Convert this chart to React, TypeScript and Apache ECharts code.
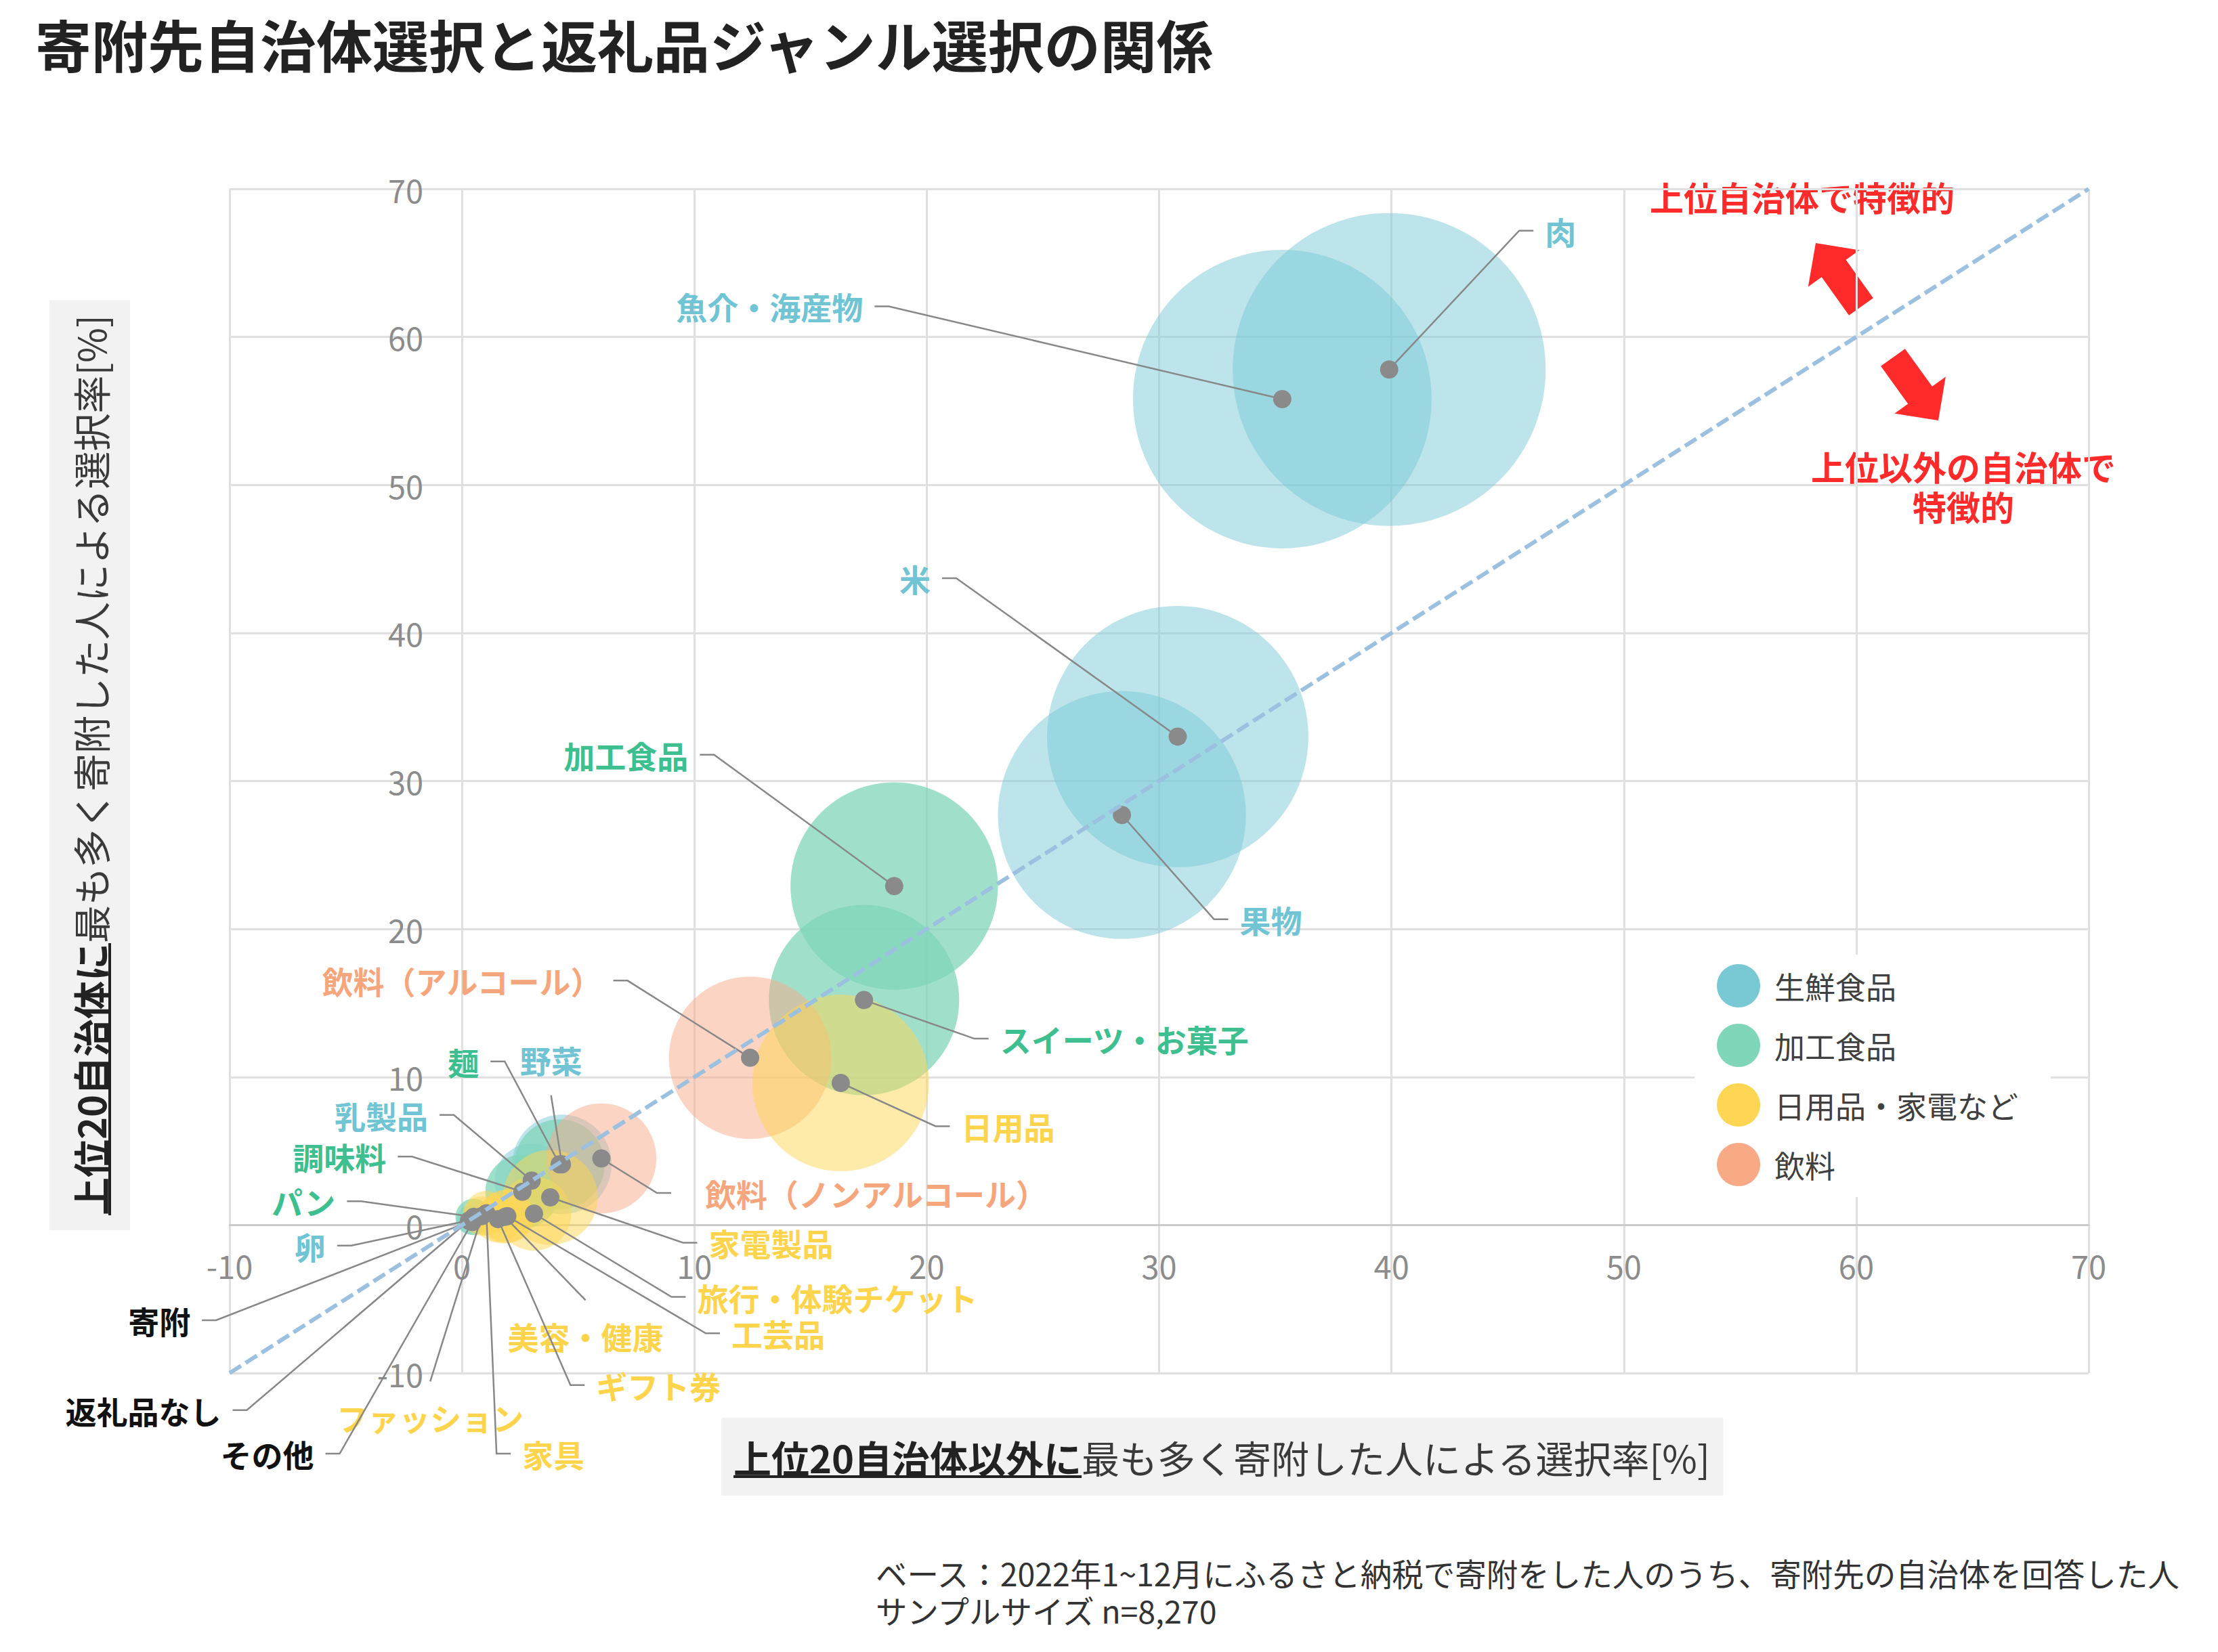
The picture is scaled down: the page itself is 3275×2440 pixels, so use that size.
import React, { useEffect, useRef } from "react";
import * as echarts from "echarts";

const FONT = '"Noto Sans CJK JP", "Noto Sans", sans-serif';
const W = 3275;
const H = 2440;

// ---------- data ----------
const CATEGORIES = ["生鮮食品", "加工食品", "日用品・家電など", "飲料"];
const CATEGORY_COLORS = ["#79c9d5", "#80d6b9", "#fed654", "#f8aa87"];
const CATEGORY_OPACITY = [0.5, 0.75, 0.5, 0.5];
const LABEL_COLORS = ["#70c4d3", "#3dbf8f", "#fdd44b", "#f6a67d", "#111111"];
const DRAW_ORDER = [0, 1, 3, 2];

const ITEMS = [
  "肉", "魚介・海産物", "米", "果物", "加工食品", "スイーツ・お菓子", "日用品",
  "飲料（アルコール）", "飲料（ノンアルコール）", "野菜", "麺", "乳製品", "調味料",
  "家電製品", "旅行・体験チケット", "工芸品", "美容・健康", "ギフト券", "家具",
  "ファッション", "パン", "卵", "寄附", "返礼品なし", "その他",
];
// 0 生鮮食品, 1 加工食品, 2 日用品・家電など, 3 飲料, 4 none
const ITEM_CATEGORY = [0, 0, 0, 0, 1, 1, 2, 3, 3, 0, 1, 0, 1, 2, 2, 2, 2, 2, 2, 2, 1, 0, 4, 4, 4];
// selection rate among people who donated most to non-top-20 municipalities (x)
const RATE_OTHERS = [39.9, 35.3, 30.8, 28.4, 18.6, 17.3, 16.3, 12.4, 6.0, 4.3, 4.2, 3.0, 2.6, 3.8, 3.1, 1.95, 1.85, 1.55, 1.05, 0.85, 0.5, 0.4, 0.35, 0.3, 0.45];
// selection rate among people who donated most to top-20 municipalities (y)
const RATE_TOP20 = [57.8, 55.8, 33.0, 27.7, 22.9, 15.2, 9.6, 11.3, 4.5, 4.1, 4.1, 3.0, 2.25, 1.87, 0.77, 0.6, 0.55, 0.4, 0.8, 0.6, 0.55, 0.35, 0.25, 0.3, 0.2];
// overall selection rate (bubble area)
const RATE_ALL = [44.6, 40.6, 31.1, 28.0, 19.6, 16.5, 14.2, 12.0, 5.5, 4.5, 3.7, 2.5, 2.5, 4.1, 2.5, 1.3, 1.3, 1.0, 0.9, 0.7, 0.6, 0.4, 0, 0, 0];
const DIAGONAL = [[-10, -10], [70, 70]];
const AXIS_MIN = -10;
const AXIS_MAX = 70;
const AXIS_STEP = 10;

const TITLE = "寄附先自治体選択と返礼品ジャンル選択の関係";
const X_TITLE_BOLD = "上位20自治体以外に";
const X_TITLE_REST = "最も多く寄附した人による選択率[%]";
const Y_TITLE_BOLD = "上位20自治体に";
const Y_TITLE_REST = "最も多く寄附した人による選択率[%]";
const NOTE_LINES = [
  "ベース：2022年1~12月にふるさと納税で寄附をした人のうち、寄附先の自治体を回答した人",
  "サンプルサイズ n=8,270",
];
const NOTE_UP = "上位自治体で特徴的";
const NOTE_DOWN = ["上位以外の自治体で", "特徴的"];

// ---------- layout ----------
type Side = "L" | "R" | "T" | "B";
const LABEL_LAYOUT: { dx: number; dy: number; side: Side; gap?: number }[] = [
  { dx: 192, dy: -205, side: "R" },
  { dx: -581, dy: -137, side: "L" },
  { dx: -327, dy: -234, side: "L" },
  { dx: 136, dy: 154, side: "R" },
  { dx: -266, dy: -194, side: "L" },
  { dx: 163, dy: 57, side: "R" },
  { dx: 140, dy: 64, side: "R" },
  { dx: -181, dy: -114, side: "L" },
  { dx: 82, dy: 51, side: "R", gap: 50 },
  { dx: -16, dy: -102, side: "T" },
  { dx: -81, dy: -152, side: "L" },
  { dx: -115, dy: -97, side: "L" },
  { dx: -163, dy: -52, side: "L" },
  { dx: 196, dy: 67, side: "R" },
  { dx: 203, dy: 123, side: "R" },
  { dx: 293, dy: 173, side: "R" },
  { dx: 119, dy: 123, side: "B" },
  { dx: 107, dy: 245, side: "R" },
  { dx: 15, dy: 355, side: "R" },
  { dx: -76, dy: 244, side: "B" },
  { dx: -166, dy: -23, side: "L" },
  { dx: -177, dy: 38, side: "L" },
  { dx: -375, dy: 146, side: "L" },
  { dx: -328, dy: 280, side: "L" },
  { dx: -196, dy: 342, side: "L" },
];
const SEG = 21;
const GAP = 17;
const VGAP = 53;
const BUBBLE_SCALE = 69.2;
const GRID = { left: 339, right: 191, top: 279, bottom: 412 };

function measure(text: string, font: string): number {
  const ctx = document.createElement("canvas").getContext("2d");
  if (!ctx) return text.length * 50;
  ctx.font = font;
  return ctx.measureText(text).width;
}

function arrow(tail: number[], tip: number[], shaftW: number, headW: number, headL: number) {
  const dx = tip[0] - tail[0];
  const dy = tip[1] - tail[1];
  const len = Math.hypot(dx, dy);
  const ux = dx / len, uy = dy / len;
  const nx = -uy, ny = ux;
  const bx = tip[0] - ux * headL, by = tip[1] - uy * headL;
  const s = shaftW / 2, h = headW / 2;
  return [
    [tail[0] + nx * s, tail[1] + ny * s],
    [bx + nx * s, by + ny * s],
    [bx + nx * h, by + ny * h],
    [tip[0], tip[1]],
    [bx - nx * h, by - ny * h],
    [bx - nx * s, by - ny * s],
    [tail[0] - nx * s, tail[1] - ny * s],
  ];
}

export default function App() {
  const ref = useRef<HTMLDivElement>(null);

  useEffect(() => {
    if (!ref.current) return;
    const chart = echarts.init(ref.current, undefined, { renderer: "svg" });

    const titleFontB = `bold 56px ${FONT}`;
    const titleFontR = `56px ${FONT}`;
    const xwb = measure(X_TITLE_BOLD, titleFontB);
    const xwr = measure(X_TITLE_REST, titleFontR);
    const ywb = measure(Y_TITLE_BOLD, titleFontB);
    const ywr = measure(Y_TITLE_REST, titleFontR);

    // place both axes at the zero of the other axis
    const gridW = W - GRID.left - GRID.right;
    const gridH = H - GRID.top - GRID.bottom;
    const zeroFrac = (0 - AXIS_MIN) / (AXIS_MAX - AXIS_MIN);
    const xOffset = -gridH * zeroFrac;
    const yOffset = -gridW * zeroFrac;

    const bubbleSeries = DRAW_ORDER.map((c) => ({
      type: "scatter",
      name: CATEGORIES[c],
      z: 2,
      silent: true,
      symbol: "circle",
      data: ITEMS.map((_, i) => i)
        .filter((i) => ITEM_CATEGORY[i] === c && RATE_ALL[i] > 0)
        .map((i) => [RATE_OTHERS[i], RATE_TOP20[i], RATE_ALL[i]]),
      symbolSize: (v: number[]) => BUBBLE_SCALE * Math.sqrt(v[2]),
      itemStyle: { color: CATEGORY_COLORS[c], opacity: CATEGORY_OPACITY[c] },
    }));

    const axisCommon = {
      type: "value",
      min: AXIS_MIN,
      max: AXIS_MAX,
      interval: AXIS_STEP,
      axisTick: { show: false },
      splitLine: { show: true, lineStyle: { color: "#e0e0e0", width: 3 } },
    };

    const option: any = {
      animation: false,
      backgroundColor: "#ffffff",
      textStyle: { fontFamily: FONT },
      grid: { ...GRID, containLabel: false, outerBoundsMode: "none" },
      xAxis: {
        ...axisCommon,
        position: "bottom",
        offset: xOffset,
        axisLine: { show: true, onZero: false, lineStyle: { color: "#cbcbcb", width: 3 } },
        axisLabel: { fontSize: 47, color: "#8c8c8c", margin: 36, fontFamily: FONT },
      },
      yAxis: {
        ...axisCommon,
        position: "left",
        offset: yOffset,
        axisLine: { show: false, onZero: false },
        axisLabel: { fontSize: 47, color: "#8c8c8c", margin: 57, fontFamily: FONT },
      },
      legend: {
        orient: "vertical",
        left: 2502,
        top: 1410,
        padding: [14, 48, 16, 33],
        backgroundColor: "#ffffff",
        icon: "circle",
        itemWidth: 64,
        itemHeight: 64,
        itemGap: 24,
        selectedMode: false,
        textStyle: { fontSize: 45, color: "#404040", fontFamily: FONT, padding: [0, 0, 0, 16] },
        data: CATEGORIES.map((name, c) => ({ name, itemStyle: { color: CATEGORY_COLORS[c], opacity: 1 } })),
      },
      series: [
        ...bubbleSeries,
        {
          type: "custom",
          name: "labels",
          z: 3,
          clip: false,
          silent: true,
          data: ITEMS.map((_, i) => [RATE_OTHERS[i], RATE_TOP20[i], i]),
          encode: { x: 0, y: 1 },
          renderItem: (_params: any, api: any) => {
            const i = api.value(2);
            const p = api.coord([api.value(0), api.value(1)]);
            const L = LABEL_LAYOUT[i];
            const ex = p[0] + L.dx;
            const ey = p[1] + L.dy;
            const pts: number[][] = [[p[0], p[1]], [ex, ey]];
            const gap = L.gap ?? GAP;
            let tx = ex, ty = ey, align = "center";
            if (L.side === "L") {
              pts.push([ex - SEG, ey]);
              tx = ex - SEG - gap;
              align = "right";
            } else if (L.side === "R") {
              pts.push([ex + SEG, ey]);
              tx = ex + SEG + gap;
              align = "left";
            } else if (L.side === "T") {
              ty = ey - VGAP;
            } else {
              ty = ey + VGAP;
            }
            const color = LABEL_COLORS[ITEM_CATEGORY[i]];
            return {
              type: "group",
              children: [
                {
                  type: "polyline",
                  shape: { points: pts },
                  style: { stroke: "#888888", lineWidth: 2.5, fill: null },
                },
                {
                  type: "text",
                  x: tx,
                  y: ty,
                  style: {
                    text: ITEMS[i],
                    fill: color,
                    font: `bold 46px ${FONT}`,
                    align,
                    verticalAlign: "middle",
                    textAlign: align,
                    textVerticalAlign: "middle",
                  },
                },
              ],
            };
          },
        },
        {
          type: "scatter",
          name: "points",
          z: 4,
          silent: true,
          symbol: "circle",
          symbolSize: 27,
          data: ITEMS.map((_, i) => [RATE_OTHERS[i], RATE_TOP20[i]]),
          itemStyle: { color: "#8a8a8a", opacity: 1 },
        },
        {
          type: "line",
          name: "diagonal",
          z: 5,
          silent: true,
          symbol: "none",
          data: DIAGONAL,
          lineStyle: { color: "#9cc0e0", width: 6, type: [20, 8] },
        },
      ],
      graphic: [
        {
          type: "text",
          x: 52,
          y: 64,
          style: { text: TITLE, font: `bold 83px ${FONT}`, fill: "#222222", textVerticalAlign: "middle", verticalAlign: "middle" },
        },
        ...NOTE_LINES.map((t, k) => ({
          type: "text",
          x: 1293,
          y: 2322 + k * 55,
          style: { text: t, font: `46.5px ${FONT}`, fill: "#333333", textVerticalAlign: "middle", verticalAlign: "middle" },
        })),
        {
          type: "group",
          x: 1083,
          y: 2151,
          children: [
            { type: "rect", z: 0, shape: { x: -18, y: -57, width: xwb + xwr + 36, height: 115 }, style: { fill: "#f2f2f2" } },
            { type: "text", z: 1, x: 0, y: 0, style: { text: X_TITLE_BOLD, font: titleFontB, fill: "#222222", textVerticalAlign: "middle", verticalAlign: "middle" } },
            { type: "text", z: 1, x: xwb, y: 0, style: { text: X_TITLE_REST, font: titleFontR, fill: "#3a3a3a", textVerticalAlign: "middle", verticalAlign: "middle" } },
            { type: "line", z: 1, shape: { x1: 0, y1: 30, x2: xwb, y2: 30 }, style: { stroke: "#222222", lineWidth: 4 } },
          ],
        },
        {
          type: "group",
          x: 132,
          y: 1795,
          rotation: Math.PI / 2,
          children: [
            { type: "rect", z: 0, shape: { x: -22, y: -59, width: ywb + ywr + 42, height: 119 }, style: { fill: "#f2f2f2" } },
            { type: "text", z: 1, x: 0, y: 0, style: { text: Y_TITLE_BOLD, font: titleFontB, fill: "#222222", textVerticalAlign: "middle", verticalAlign: "middle" } },
            { type: "text", z: 1, x: ywb, y: 0, style: { text: Y_TITLE_REST, font: titleFontR, fill: "#3a3a3a", textVerticalAlign: "middle", verticalAlign: "middle" } },
            { type: "line", z: 1, shape: { x1: 0, y1: 30, x2: ywb, y2: 30 }, style: { stroke: "#222222", lineWidth: 4 } },
          ],
        },
        {
          type: "text",
          x: 2661,
          y: 290,
          style: { text: NOTE_UP, font: `bold 50px ${FONT}`, fill: "#ff2b2b", align: "center", textAlign: "center", verticalAlign: "middle", textVerticalAlign: "middle" },
        },
        ...NOTE_DOWN.map((t, k) => ({
          type: "text",
          x: 2899,
          y: 688 + k * 59,
          style: { text: t, font: `bold 50px ${FONT}`, fill: "#ff2b2b", align: "center", textAlign: "center", verticalAlign: "middle", textVerticalAlign: "middle" },
        })),
        {
          type: "polygon",
          shape: { points: arrow([2748, 453], [2681, 359], 44, 93, 46) },
          style: { fill: "#ff2b2b" },
        },
        {
          type: "polygon",
          shape: { points: arrow([2795, 528], [2862, 621], 44, 93, 46) },
          style: { fill: "#ff2b2b" },
        },
      ],
    };

    chart.setOption(option);
    return () => chart.dispose();
  }, []);

  return (
    <div
      ref={ref}
      style={{ position: "fixed", left: 0, top: 0, width: W, height: H, background: "#fff" }}
    />
  );
}
